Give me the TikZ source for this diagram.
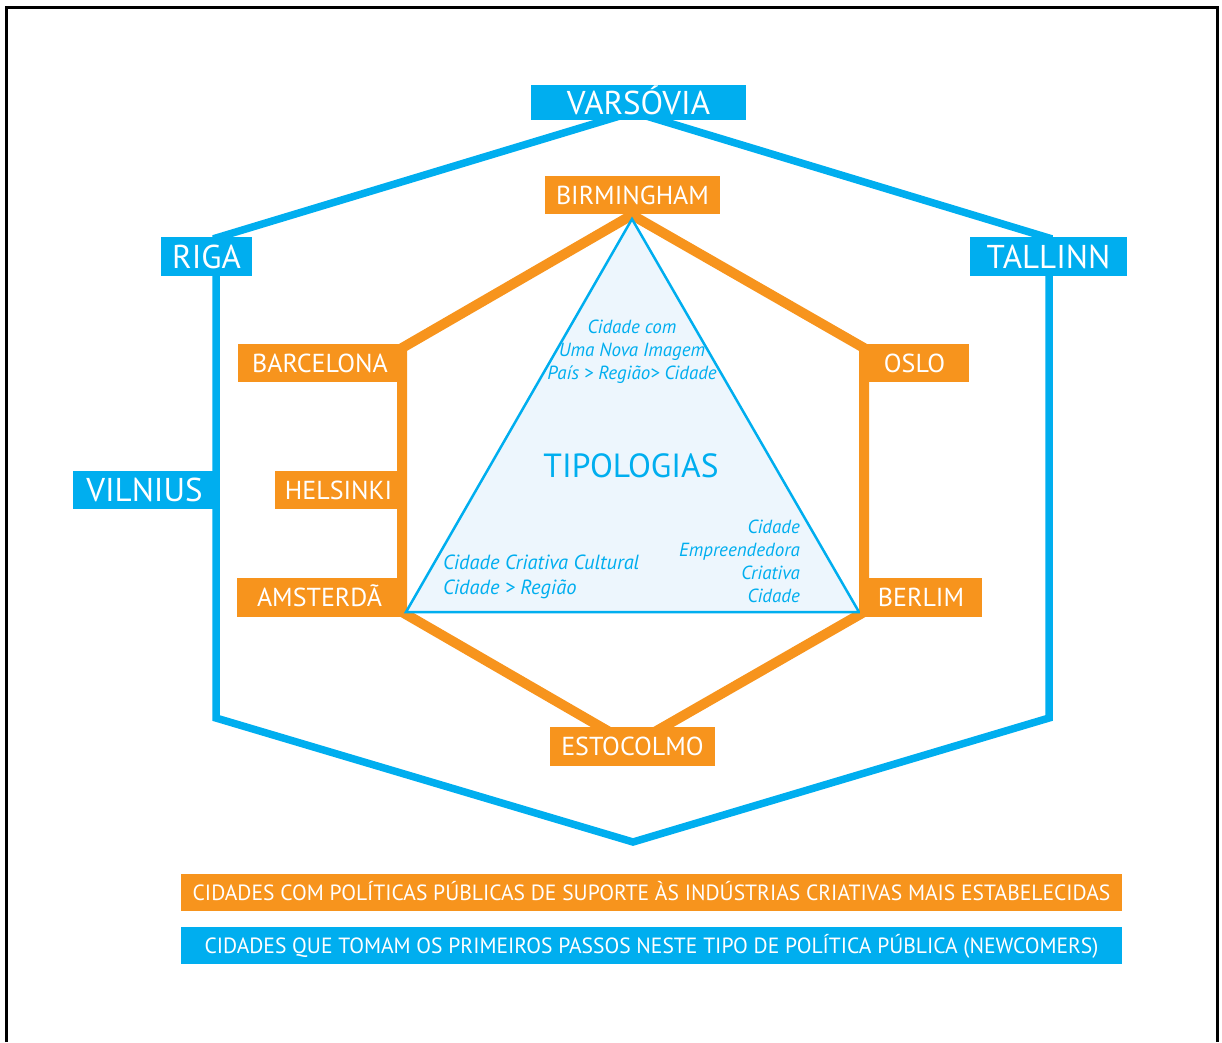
\documentclass[tikz,border=0pt]{standalone}
\usepackage{fontspec}
\setmainfont{PT Sans}
\definecolor{cor}{HTML}{F7941D}
\definecolor{cbl}{HTML}{00AEEF}
\definecolor{ctri}{HTML}{EDF6FD}
\begin{document}
\begin{tikzpicture}[x=1pt,y=-1pt,
  obox/.style={fill=cor,text=white,inner sep=0pt,font=\fontsize{26}{26}\selectfont,text height=18pt,text depth=0pt},
  bbox/.style={fill=cbl,text=white,inner sep=0pt,font=\fontsize{33}{33}\selectfont,text height=23pt,text depth=0pt},
  bline/.style={draw=cbl,line width=7.5pt,line join=miter},
  oline/.style={draw=cor,line width=10pt,line join=miter},
  tritext/.style={text=cbl,inner sep=0pt,font=\fontsize{19}{23}\selectfont\itshape},
  legbar/.style={inner sep=0pt,text=white,minimum width=941pt,minimum height=37pt,font=\fontsize{22}{22}\selectfont,text height=16pt,text depth=0pt}]
\useasboundingbox (0,0) rectangle (1222,1042);
\draw[line width=3pt] (6,1042) -- (6,7) -- (1217,7) -- (1217,1042);
% blue hexagon
\coordinate (bT) at (633,112);
\coordinate (bUL) at (216,238);
\coordinate (bLL) at (216,718);
\coordinate (bB) at (633,842);
\coordinate (bLR) at (1049,718);
\coordinate (bUR) at (1049,238);
\draw[bline] (bT) -- (bUL) -- (bLL) -- (bB) -- (bLR) -- (bUR) -- cycle;
% orange hexagon
\coordinate (oT) at (632,215);
\coordinate (oUL) at (402,348);
\coordinate (oLL) at (402,612);
\coordinate (oB) at (632,745);
\coordinate (oLR) at (864,612);
\coordinate (oUR) at (864,348);
\draw[oline] (oT) -- (oUL) -- (oLL) -- (oB) -- (oLR) -- (oUR) -- cycle;
% triangle
\coordinate (tA) at (632,219);
\coordinate (tL) at (406,612);
\coordinate (tR) at (859,612);
\draw[draw=cbl,fill=ctri,line width=2.5pt,line join=miter] (tA) -- (tL) -- (tR) -- cycle;
% triangle texts
\node[tritext,align=center] (ttop) at (632,352) {Cidade com\\Uma Nova Imagem\\País > Região> Cidade};
\node[text=cbl,inner sep=0pt,font=\fontsize{33.5}{33.5}\selectfont] (tip) at (631,466) {TIPOLOGIAS};
\node[tritext,align=left,anchor=west,font=\fontsize{20.5}{25}\selectfont\itshape] (tleft) at (443,577) {Cidade Criativa Cultural\\Cidade > Região};
\node[tritext,align=right,anchor=east] (tright) at (800,561.5) {Cidade\\Empreendedora\\Criativa\\Cidade};
% blue boxes
\node[bbox,minimum width=215pt,minimum height=35pt] (varsovia) at (638.5,102.5) {VARSÓVIA};
\node[bbox,minimum width=91pt,minimum height=39pt] (riga) at (206.5,256.5) {RIGA};
\node[bbox,minimum width=157pt,minimum height=39pt] (tallinn) at (1048.5,256.5) {TALLINN};
\node[bbox,minimum width=143pt,minimum height=38pt] (vilnius) at (144.5,490) {VILNIUS};
% orange boxes
\node[obox,minimum width=175pt,minimum height=38pt] (birm) at (632.5,195) {BIRMINGHAM};
\node[obox,minimum width=164pt,minimum height=38pt] (barc) at (320,363) {BARCELONA};
\node[obox,minimum width=127pt,minimum height=38pt] (hels) at (338.5,490) {HELSINKI};
\node[obox,minimum width=165pt,minimum height=39pt] (amst) at (319.5,597.5) {AMSTERDÃ};
\node[obox,minimum width=109pt,minimum height=38pt] (oslo) at (914.5,363) {OSLO};
\node[obox,minimum width=122pt,minimum height=39pt] (berl) at (921,597.5) {BERLIM};
\node[obox,minimum width=165pt,minimum height=39pt] (esto) at (632.5,746.5) {ESTOCOLMO};
% legend
\node[legbar,fill=cor] (leg1) at (651.5,892.5) {\scalebox{0.98}[1]{CIDADES COM POLÍTICAS PÚBLICAS DE SUPORTE ÀS INDÚSTRIAS CRIATIVAS MAIS ESTABELECIDAS}};
\node[legbar,fill=cbl] (leg2) at (651.5,945.5) {\scalebox{0.98}[1]{CIDADES QUE TOMAM OS PRIMEIROS PASSOS NESTE TIPO DE POLÍTICA PÚBLICA (NEWCOMERS)}};
\end{tikzpicture}
\end{document}
